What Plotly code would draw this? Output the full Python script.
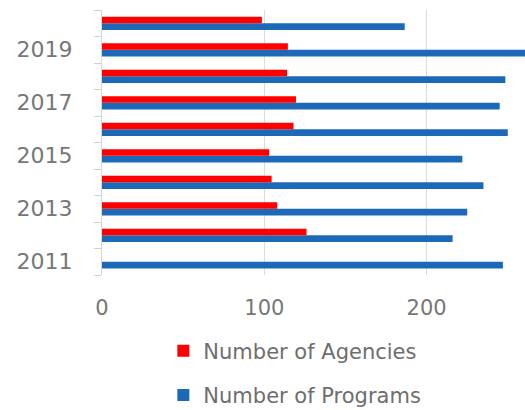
import plotly.graph_objects as go

years = [str(y) for y in range(2011, 2021)]
agencies = [0, 126, 108, 104.5, 103, 118, 119.5, 114, 114.5, 98.5]
programs = [247, 216, 225, 235, 222, 250, 245, 248.5, 268, 186.5]
year_labels = [y if int(y) % 2 == 1 else "" for y in years]
x_ticks = [0, 100, 200]

RED = "#fe0000"
BLUE = "#1c6ab7"
GRAY = "#777777"

fig = go.Figure()
fig.add_trace(go.Bar(
    y=years, x=programs, orientation="h", name="Number of Programs",
    marker=dict(color=BLUE, line=dict(width=0)), legendgroup="p", legendrank=2,
))
fig.add_trace(go.Bar(
    y=years, x=agencies, orientation="h", name="Number of Agencies",
    marker=dict(color=RED, line=dict(width=0)), legendgroup="a", legendrank=1,
))

fig.update_layout(
    width=525, height=410,
    margin=dict(l=102, r=0, t=10, b=135, autoexpand=False),
    paper_bgcolor="white", plot_bgcolor="white",
    barmode="group", bargap=0.5, bargroupgap=0,
    font=dict(family="DejaVu Sans", color=GRAY, size=21),
    showlegend=True,
    legend=dict(
        x=0.145, y=-0.21, xanchor="left", yanchor="top",
        orientation="v", traceorder="grouped", tracegroupgap=14,
        font=dict(size=21, color="#6e6e6e"), itemwidth=30,
        bgcolor="rgba(0,0,0,0)",
    ),
    xaxis=dict(
        range=[0, 260.6], tickvals=x_ticks, ticktext=[str(v) for v in x_ticks],
        showgrid=True, gridcolor="#dcdcdc", gridwidth=1,
        zeroline=False, showline=False, ticks="",
        ticklabelstandoff=18, tickfont=dict(size=21, color=GRAY),
    ),
    yaxis=dict(
        type="category", categoryorder="array", categoryarray=years,
        tickvals=years, ticktext=year_labels,
        tickson="boundaries", ticks="outside", ticklen=7, tickcolor="#d0d0d0",
        showline=True, linecolor="#d8d8d8", linewidth=1,
        showgrid=False, zeroline=False,
        ticklabelstandoff=24, tickfont=dict(size=22, color=GRAY),
    ),
)

fig.write_html(
    "out.html",
    config={"displayModeBar": False},
    post_script="document.body.style.margin='0';document.body.style.overflow='hidden';",
)
